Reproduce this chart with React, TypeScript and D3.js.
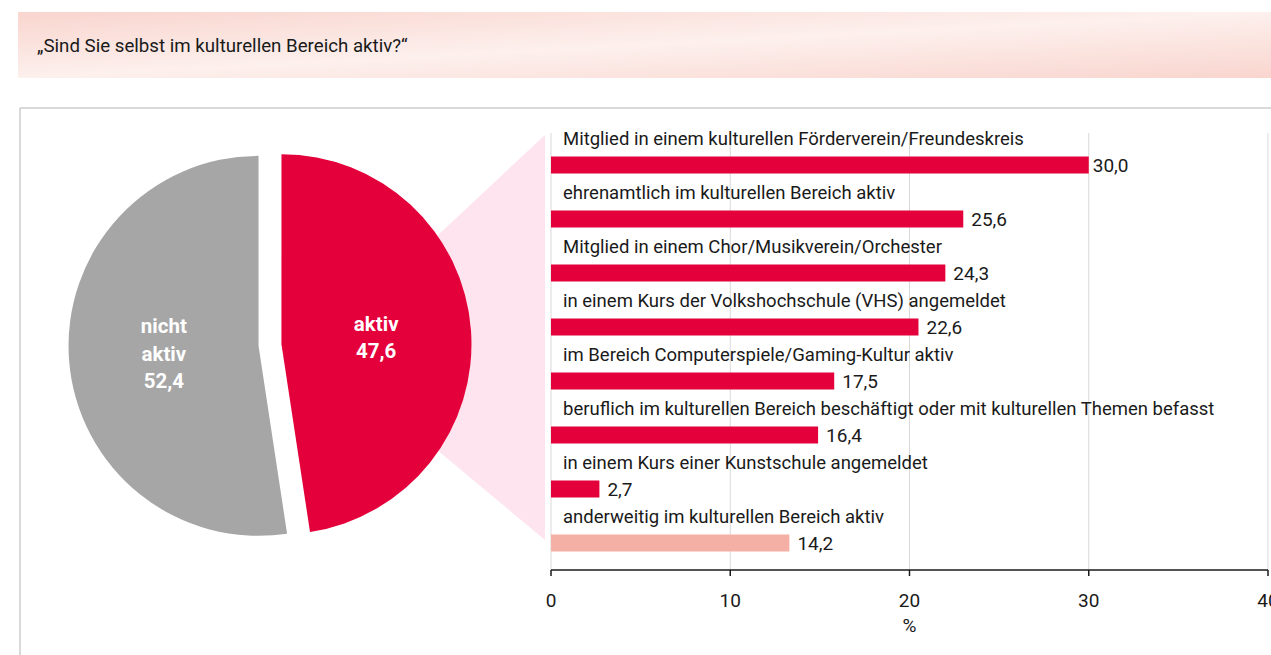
import React from "react";
import * as d3 from "d3";

const title = "„Sind Sie selbst im kulturellen Bereich aktiv?“";
const pieCategories = ["aktiv", "nicht aktiv"];
const pieValues = [47.6, 52.4];
const pieLabelLines = [["aktiv", "47,6"], ["nicht", "aktiv", "52,4"]];
const pieColors = ["#e4003a", "#a6a6a6"];

const barCategories = [
  "Mitglied in einem kulturellen Förderverein/Freundeskreis",
  "ehrenamtlich im kulturellen Bereich aktiv",
  "Mitglied in einem Chor/Musikverein/Orchester",
  "in einem Kurs der Volkshochschule (VHS) angemeldet",
  "im Bereich Computerspiele/Gaming-Kultur aktiv",
  "beruflich im kulturellen Bereich beschäftigt oder mit kulturellen Themen befasst",
  "in einem Kurs einer Kunstschule angemeldet",
  "anderweitig im kulturellen Bereich aktiv",
];
// printed values
const barLabels = ["30,0", "25,6", "24,3", "22,6", "17,5", "16,4", "2,7", "14,2"];
// bar lengths as drawn in the picture
const barLengths = [30.0, 23.0, 22.0, 20.5, 15.8, 14.9, 2.7, 13.3];
const barColors = ["#e4003a", "#e4003a", "#e4003a", "#e4003a", "#e4003a", "#e4003a", "#e4003a", "#f5b0a6"];
const xTicks = [0, 10, 20, 30, 40];
const xAxisLabel = "%";

const FONT = "Roboto, 'Noto Sans', sans-serif";

export default function App() {
  const W = 1271, H = 655;
  const x = d3.scaleLinear().domain([0, 40]).range([551, 1268]);
  const y = d3.scalePoint<string>().domain(barCategories).range([165, 543]);
  const barH = 17;
  const axisY = 570;

  const pie = d3.pie<number>().sort(null).startAngle(0).endAngle(2 * Math.PI)(pieValues);
  const R = 190;
  const cx = 270, cy = 345;
  const explode = 11.5;
  const arc = d3.arc<d3.PieArcDatum<number>>().innerRadius(0).outerRadius(R);

  return (
    <svg width={W} height={H} style={{ position: "absolute", left: 0, top: 0, display: "block" }} fontFamily={FONT}>
      <defs>
        <linearGradient id="banner" x1="0" y1="0" x2="1" y2="1">
          <stop offset="0" stopColor="#f9d5ce" />
          <stop offset="0.5" stopColor="#fdf0ed" />
          <stop offset="1" stopColor="#f9d5ce" />
        </linearGradient>
      </defs>
      <rect x={0} y={0} width={W} height={H} fill="#ffffff" />
      {/* banner */}
      <rect x={18} y={12} width={W - 18} height={66} fill="url(#banner)" />
      <text x={37} y={52} fontSize={18.7} fill="#1a1a1a">{title}</text>
      {/* frame */}
      <line x1={20} y1={108} x2={W} y2={108} stroke="#cccccc" strokeWidth={1.5} />
      <line x1={20} y1={108} x2={20} y2={H} stroke="#cccccc" strokeWidth={1.5} />

      {/* zoom fan */}
      <polygon points={`316,349 545,135 545,540`} fill="#fde4ee" />

      {/* pie */}
      {pie.map((d, i) => {
        const mid = (d.startAngle + d.endAngle) / 2;
        const ox = cx + Math.sin(mid) * explode;
        const oy = cy - Math.cos(mid) * explode;
        const [lx, ly] = arc.centroid(d);
        const lines = pieLabelLines[i];
        const lh = 27.5;
        const startY = ly - ((lines.length - 1) * lh) / 2;
        return (
          <g key={pieCategories[i]} transform={`translate(${ox},${oy})`}>
            <path d={arc(d) || ""} fill={pieColors[i]} />
            {lines.map((t, j) => (
              <text key={j} x={lx} y={startY + j * lh + 7.5} textAnchor="middle" fontSize={20.5} fontWeight="bold" fill="#ffffff">
                {t}
              </text>
            ))}
          </g>
        );
      })}

      {/* gridlines */}
      {xTicks.map((t) => (
        <line key={t} x1={x(t)} x2={x(t)} y1={133} y2={axisY} stroke="#d9d9d9" strokeWidth={1} />
      ))}

      {/* bars */}
      {barCategories.map((c, i) => {
        const yc = y(c)!;
        return (
          <g key={c}>
            <text x={563} y={yc - 20.5} fontSize={18.5} fill="#1a1a1a">{c}</text>
            <rect x={x(0)} y={yc - barH / 2} width={x(barLengths[i]) - x(0)} height={barH} fill={barColors[i]} />
            <text x={x(barLengths[i]) + (i === 0 ? 4 : 8)} y={yc + 7} fontSize={19} fill="#1a1a1a">{barLabels[i]}</text>
          </g>
        );
      })}

      {/* axis */}
      <line x1={x(0)} x2={x(40)} y1={axisY} y2={axisY} stroke="#1a1a1a" strokeWidth={1.5} />
      {xTicks.map((t) => (
        <g key={t}>
          <line x1={x(t)} x2={x(t)} y1={axisY} y2={axisY + 6} stroke="#1a1a1a" strokeWidth={1.5} />
          <text x={x(t)} y={607} textAnchor="middle" fontSize={19} fill="#1a1a1a">{t}</text>
        </g>
      ))}
      <text x={x(20)} y={632} textAnchor="middle" fontSize={19} fill="#1a1a1a">{xAxisLabel}</text>
    </svg>
  );
}
